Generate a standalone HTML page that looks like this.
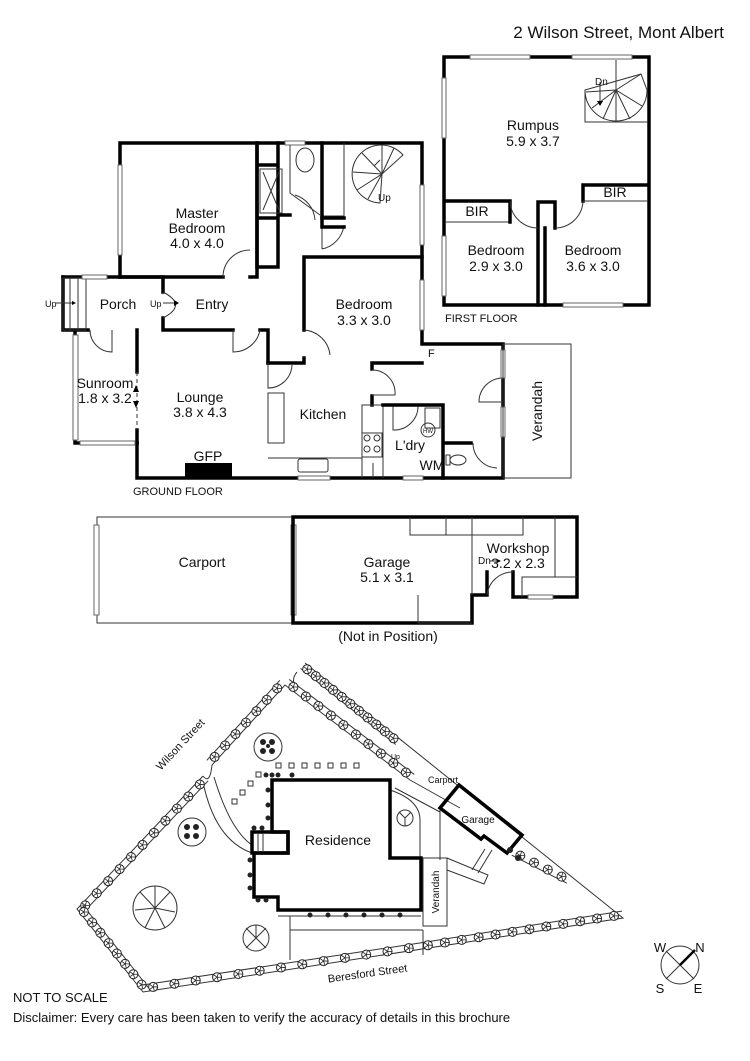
<!DOCTYPE html>
<html><head><meta charset="utf-8"><style>
html,body{margin:0;padding:0;background:#fff}
svg{display:block}
text{font-family:"Liberation Sans",Arial,sans-serif;fill:#111}
.w{stroke:#000;stroke-width:3.5;fill:none;stroke-linecap:square}
.t{stroke:#333;stroke-width:1;fill:none}
.win{fill:#fff;stroke:#666;stroke-width:1}
.lab{font-size:14px;text-anchor:middle}
</style></head><body>
<svg id="s" width="750" height="1061" viewBox="0 0 750 1061" xmlns="http://www.w3.org/2000/svg">
<text x="724" y="38" font-size="17" text-anchor="end">2 Wilson Street, Mont Albert</text>

<!-- FIRST FLOOR -->
<rect x="444" y="57" width="205" height="248" class="w"/>
<rect x="470" y="55" width="60" height="4" class="win"/>
<rect x="572" y="55" width="60" height="4" class="win"/>
<rect x="442" y="78" width="4" height="60" class="win"/>
<rect x="442" y="236" width="4" height="60" class="win"/>
<rect x="563" y="303" width="60" height="4" class="win"/>
<path d="M445,201 H510 V222 H445" class="t" stroke-width="1.5"/>
<path d="M445,201 H510 M510,201 V222" class="w" stroke-width="2.5"/>
<path d="M583,201 V185 H648" class="w" stroke-width="2.5"/>
<path d="M583,201 H648" class="t"/>
<path d="M538,202 V305 M538,202 H555 V228 M545,228 V305" class="w" stroke-width="2.5"/>
<path d="M510,201 A28,28 0 0 0 538,228" class="t"/>
<path d="M583,201 A28,28 0 0 1 555,228" class="t"/>
<path d="M585,90 V122 H648 M616,60 V90" class="t"/>
<path d="M585,90 A31,31 0 0 0 647,90 L641,74 Z" class="t"/>
<path d="M616,90 L641,74 M616,90 L586,92 M616,90 L592,108 M616,90 L603,119 M616,90 L616,121 M616,90 L630,119 M616,90 L642,106" class="t"/>
<path d="M600,82 V104" class="t"/><path d="M597,101 L600,106 L603,101Z" fill="#000"/>
<text x="595" y="85" font-size="10">Dn</text>
<text x="533" y="130" class="lab">Rumpus</text>
<text x="533" y="146" class="lab">5.9 x 3.7</text>
<text x="477" y="216" class="lab" font-size="13">BIR</text>
<text x="615" y="197" class="lab" font-size="13">BIR</text>
<text x="496" y="255" class="lab">Bedroom</text>
<text x="496" y="271" class="lab">2.9 x 3.0</text>
<text x="593" y="255" class="lab">Bedroom</text>
<text x="593" y="271" class="lab">3.6 x 3.0</text>
<text x="445" y="322" font-size="11">FIRST FLOOR</text>

<!-- GROUND FLOOR -->
<path d="M120,277 V143 H422 V344 H503 V478 H137 V443" class="w"/>
<path d="M137,330 V372 M137,430 V443" class="w"/>
<path d="M137,372 V430" class="t" stroke-dasharray="4,3"/>
<path d="M120,277 H223 M250,277 H257 V143" class="w"/>
<path d="M63,277 H163 V292 M163,318 V330 H233 M260,330 H268 V363" class="w"/>
<path d="M63,277 V330 H88 M75,330 V443 H137" class="w" stroke-width="2.5"/>
<rect x="73" y="335" width="5" height="105" class="win"/>
<rect x="80" y="441" width="55" height="4" class="win"/>
<rect x="63" y="278" width="23" height="52" class="t"/>
<path d="M70,278 V330 M78,278 V330" class="t"/>
<rect x="82" y="275" width="25" height="4" class="win"/>
<rect x="118" y="165" width="4" height="90" class="win"/>
<path d="M223,277 A27,27 0 0 1 250,250" class="t"/>
<path d="M163,292 Q188,305 163,318" class="t"/>
<path d="M90,330 A22,22 0 0 0 112,352 V330" class="t"/>
<path d="M233,330 V352 A27,27 0 0 0 260,330" class="t"/>
<path d="M257,143 V267 H278 V143 M257,218 H278 M257,165 H278 M278,143 V215 H290" class="w" stroke-width="2"/>
<rect x="260" y="169" width="22" height="44" class="t"/>
<path d="M263,172 L279,210 M279,172 L263,210" class="t"/>
<path d="M290,143 V193 L320,215 M322,143 V220 M322,216 H344 V143" class="t"/>
<path d="M322,143 V218 M322,218 H344" class="w" stroke-width="2.5"/>
<ellipse cx="305" cy="160" rx="9" ry="12" class="t"/>
<rect x="285" y="141" width="20" height="4" class="win"/>
<path d="M295,195 A28,28 0 0 1 315,220" class="t"/>
<path d="M322,220 V249 M322,249 A28,28 0 0 0 344,225" class="t"/>
<path d="M322,218 V227 H344" class="w" stroke-width="2.5"/>
<path d="M382,174 L403,155 A29,29 0 1 0 380,203 Z" class="t"/>
<path d="M382,174 L382,145 M382,174 L362,153 M382,174 L353,172 M382,174 L357,190 M382,174 L368,199 M382,174 L394,148" class="t"/>
<path d="M374,166 L380,160" class="t"/>
<text x="378" y="201" font-size="10">Up</text>
<rect x="420" y="185" width="4" height="60" class="win"/>
<path d="M304,257 H422 M304,257 V330 M304,358 V363 H268" class="w"/>
<path d="M304,330 A28,28 0 0 1 330,355" class="t"/>
<rect x="420" y="280" width="4" height="50" class="win"/>
<path d="M268,363 V388 A24,24 0 0 0 292,365" class="t"/>
<path d="M372,363 H422 M372,363 V369 M372,396 V405" class="w" stroke-width="2.5"/>
<path d="M372,370 A23,23 0 0 1 395,395 H372" class="t"/>
<rect x="268" y="393" width="16" height="50" class="t"/>
<path d="M268,458 H362 V405 H383 V478 M362,458 V478 M373,463 V478" class="t"/>
<rect x="362" y="433" width="20" height="24" class="t"/>
<circle cx="367" cy="438" r="3" class="t"/><circle cx="377" cy="438" r="3" class="t"/>
<circle cx="367" cy="449" r="3" class="t"/><circle cx="377" cy="449" r="3" class="t"/>
<rect x="298" y="459" width="30" height="13" rx="2" class="t"/>
<rect x="298" y="476" width="32" height="4" class="win"/>
<path d="M383,405 H393 V430 A24,24 0 0 0 418,405 H443 V478" class="t"/>
<path d="M383,405 H443 V478 M443,443 H471 M443,443 V478" class="w" stroke-width="2"/>
<rect x="425" y="408" width="15" height="20" class="t"/>
<circle cx="428" cy="430" r="7" class="t"/><text x="428" y="433" font-size="6" text-anchor="middle">HW</text>
<ellipse cx="458" cy="460" rx="8" ry="5" class="t"/><rect x="446" y="455" width="4" height="10" class="t"/>
<path d="M473,443 A25,25 0 0 0 497,468" class="t"/>
<path d="M503,378 A24,24 0 0 0 479,402 H503" class="t"/>
<rect x="501" y="350" width="4" height="28" class="win"/>
<rect x="501" y="407" width="4" height="30" class="win"/>
<rect x="403" y="476" width="20" height="4" class="win"/>
<rect x="503" y="344" width="68" height="134" class="t"/>
<text transform="translate(542,411) rotate(-90)" class="lab">Verandah</text>
<rect x="185" y="463" width="47" height="15" fill="#000"/>
<text x="208" y="461" class="lab" font-size="13">GFP</text>
<text x="133" y="495" font-size="11">GROUND FLOOR</text>
<text x="197" y="218" class="lab">Master</text>
<text x="197" y="233" class="lab">Bedroom</text>
<text x="197" y="248" class="lab">4.0 x 4.0</text>
<text x="118" y="309" class="lab">Porch</text>
<text x="150" y="307" font-size="9">Up</text>
<path d="M163,303 H176" class="t"/><path d="M174,300 L179,303 L174,306Z" fill="#000"/>
<text x="45" y="307" font-size="9">Up</text>
<path d="M56,303 H73" class="t"/><path d="M72,301 L76,303 L72,305Z" fill="#000"/>
<text x="212" y="309" class="lab">Entry</text>
<text x="364" y="309" class="lab">Bedroom</text>
<text x="364" y="325" class="lab">3.3 x 3.0</text>
<text x="105" y="388" class="lab" font-size="13">Sunroom</text>
<text x="105" y="403" class="lab" font-size="13">1.8 x 3.2</text>
<path d="M136,385 L133,392 H139Z M136,408 L133,401 H139Z" fill="#000"/>
<text x="200" y="402" class="lab">Lounge</text>
<text x="200" y="417" class="lab">3.8 x 4.3</text>
<text x="323" y="419" class="lab">Kitchen</text>
<text x="410" y="450" class="lab">L'dry</text>
<text x="432" y="470" class="lab" font-size="10">WM</text>
<text x="428" y="357" font-size="11">F</text>

<!-- GARAGE -->
<rect x="97" y="517" width="196" height="106" class="t"/>
<rect x="94" y="525" width="5" height="90" class="win"/>
<rect x="291" y="525" width="5" height="90" class="win"/>
<path d="M293,517 H577 V597 H513 V572 M487,572 V595 H472 V623 H293 V517" class="w"/>
<path d="M410,517 V535 H523 V517 M446,517 V535 M472,517 V595 M418,595 V623 H472 M522,597 V577 H577 M555,517 V577" class="t"/>
<path d="M487,595 A26,26 0 0 1 513,572" class="t"/>
<rect x="528" y="595" width="25" height="4" class="win"/>
<text x="202" y="567" class="lab">Carport</text>
<text x="387" y="567" class="lab">Garage</text>
<text x="387" y="582" class="lab">5.1 x 3.1</text>
<text x="518" y="553" class="lab">Workshop</text>
<text x="518" y="568" class="lab">3.2 x 2.3</text>
<text x="478" y="564" font-size="10">Dn</text>
<path d="M490,561 H498" class="t"/><path d="M497,559 L501,561 L497,563Z" fill="#000"/>
<text x="388" y="641" class="lab">(Not in Position)</text>

<!-- SITE -->
<path d="M203,776 L77,909 L143,992 L623,918 L305,663" class="t" stroke-width="1.3"/>
<path d="M212,765 L285,685 L410,780" class="t" stroke-width="1.3"/>
<path d="M203,776 Q210,785 212,765" class="t"/>
<path d="M297,672 Q290,680 297,690" class="t"/>
<path d="M214,777 Q230,830 252,845 M203,782 Q215,840 252,853" class="t"/>
<path d="M410,780 L460,808 M395,788 L440,812 M440,808 V860" class="t"/>
<path d="M390,790 Q420,800 420,820 V858" class="t"/>
<path d="M447,858 L488,875 L484,884 L447,870 M472,870 L485,849 M478,873 L492,850" class="t"/>
<path d="M278,910 H421 M278,916 H421 M290,916 V930 M290,930 H423 M423,926 H447 M290,930 V960 M423,930 V955" class="t"/>
<path d="M272,780 H390 V858 H421 V910 H278 V897 H254 V853 H288 V832 H272 Z" class="w"/>
<rect x="252" y="832" width="36" height="21" class="w"/>
<path d="M258,833 V852 M263,833 V852" class="t"/>
<rect x="423" y="858" width="24" height="68" class="t"/>
<text transform="translate(439,892) rotate(-90)" font-size="10" text-anchor="middle">Verandah</text>
<path d="M459,785 L522,835 L507,853 L484,836 L481,839 L440,808 Z" class="w"/>
<text x="478" y="823" font-size="10" text-anchor="middle">Garage</text>
<text x="428" y="783" font-size="9">Carport</text>
<text x="391" y="759" font-size="7">Up</text>
<text x="338" y="845" class="lab">Residence</text>
<text transform="translate(183,747) rotate(-47)" font-size="11" text-anchor="middle">Wilson Street</text>
<text transform="translate(368,977) rotate(-8)" font-size="11" text-anchor="middle">Beresford Street</text>
<g id="trees"></g>
<g class="t"><circle cx="155" cy="908" r="22"/><path d="M155,908 L140,892 M155,908 L170,892 M155,908 L135,910 M155,908 L175,912 M155,908 L145,928 M155,908 L165,928 M155,908 L155,886"/></g>
<g class="t"><circle cx="256" cy="938" r="13"/><path d="M256,938 L246,928 M256,938 L266,928 M256,938 L246,948 M256,938 L266,948 M256,938 L256,925"/></g>
<g class="t"><circle cx="405" cy="818" r="8"/><path d="M405,818 L399,812 M405,818 L411,812 M405,818 L405,826"/></g>
<g class="t"><circle cx="268" cy="747" r="14"/><circle cx="192" cy="832" r="14"/></g>
<g fill="#222"><circle cx="263" cy="742" r="3"/><circle cx="272" cy="742" r="3"/><circle cx="263" cy="751" r="3"/><circle cx="272" cy="751" r="3"/><circle cx="268" cy="746" r="2"/>
<circle cx="187" cy="827" r="3"/><circle cx="196" cy="827" r="3"/><circle cx="187" cy="836" r="3"/><circle cx="196" cy="836" r="3"/>
<circle cx="266" cy="775" r="2.5"/><circle cx="272" cy="775" r="2.5"/><circle cx="278" cy="775" r="2.5"/><circle cx="292" cy="775" r="2.5"/>
<circle cx="268" cy="790" r="2.5"/><circle cx="268" cy="805" r="2.5"/><circle cx="268" cy="818" r="2.5"/><circle cx="254" cy="828" r="2.5"/><circle cx="262" cy="828" r="2.5"/><circle cx="250" cy="860" r="2.5"/><circle cx="250" cy="875" r="2.5"/><circle cx="250" cy="888" r="2.5"/><circle cx="258" cy="900" r="2.5"/><circle cx="266" cy="900" r="2.5"/>
<circle cx="310" cy="915" r="2.5"/><circle cx="328" cy="915" r="2.5"/><circle cx="346" cy="915" r="2.5"/><circle cx="364" cy="915" r="2.5"/><circle cx="382" cy="915" r="2.5"/><circle cx="400" cy="915" r="2.5"/>
<circle cx="510" cy="850" r="3"/><circle cx="518" cy="858" r="3"/></g>
<g class="t" fill="none"><rect x="276" y="763" width="5" height="5"/><rect x="289" y="763" width="5" height="5"/><rect x="302" y="763" width="5" height="5"/><rect x="315" y="763" width="5" height="5"/><rect x="328" y="763" width="5" height="5"/><rect x="341" y="763" width="5" height="5"/><rect x="354" y="763" width="5" height="5"/>
<rect x="256" y="772" width="5" height="5"/><rect x="248" y="781" width="5" height="5"/><rect x="240" y="790" width="5" height="5"/><rect x="232" y="799" width="5" height="5"/></g>
<circle cx="680" cy="965" r="19" class="t"/>
<path d="M666,951 L694,979 M666,979 L680,965" class="t"/>
<path d="M680,965 L695,950" stroke="#000" stroke-width="2.5"/>
<text x="660" y="952" font-size="13" text-anchor="middle">W</text>
<text x="700" y="952" font-size="13" text-anchor="middle">N</text>
<text x="660" y="993" font-size="13" text-anchor="middle">S</text>
<text x="698" y="993" font-size="13" text-anchor="middle">E</text>
<text x="13" y="1002" font-size="13">NOT TO SCALE</text>
<text x="13" y="1022" font-size="13">Disclaimer: Every care has been taken to verify the accuracy of details in this brochure</text>
</svg>
<script>
(function(){
var g=document.getElementById('trees'),ns='http://www.w3.org/2000/svg';
function row(x1,y1,x2,y2,n,off){
 var dx=x2-x1,dy=y2-y1,L=Math.hypot(dx,dy),nx=-dy/L*off,ny=dx/L*off;
 var ln=document.createElementNS(ns,'path');
 ln.setAttribute('d','M'+(x1+nx)+','+(y1+ny)+' L'+(x2+nx)+','+(y2+ny));ln.setAttribute('class','t');g.appendChild(ln);
 for(var i=0;i<n;i++){var t=(i+0.5)/n,cx=x1+dx*t+nx/2,cy=y1+dy*t+ny/2;
  var c=document.createElementNS(ns,'circle');c.setAttribute('cx',cx);c.setAttribute('cy',cy);c.setAttribute('r',4.5);
  c.setAttribute('fill','#fff');c.setAttribute('stroke','#222');g.appendChild(c);
  var p=document.createElementNS(ns,'path'),d='';
  for(var k=0;k<5;k++){var a=k*Math.PI/2.5;d+='M'+cx+','+cy+' L'+(cx+4*Math.cos(a))+','+(cy+4*Math.sin(a))+' ';}
  p.setAttribute('d',d);p.setAttribute('stroke','#222');p.setAttribute('stroke-width','0.8');g.appendChild(p);}
}
row(203,776,77,909,11,-7);
row(77,909,143,992,8,-7);
row(143,992,420,950,13,-7);
row(420,950,623,918,12,-7);
row(212,765,285,685,7,-7);
row(285,685,410,780,10,-7);
row(305,663,400,739,11,7);
row(515,849,570,877,4,7);
})();
</script>
</body></html>
